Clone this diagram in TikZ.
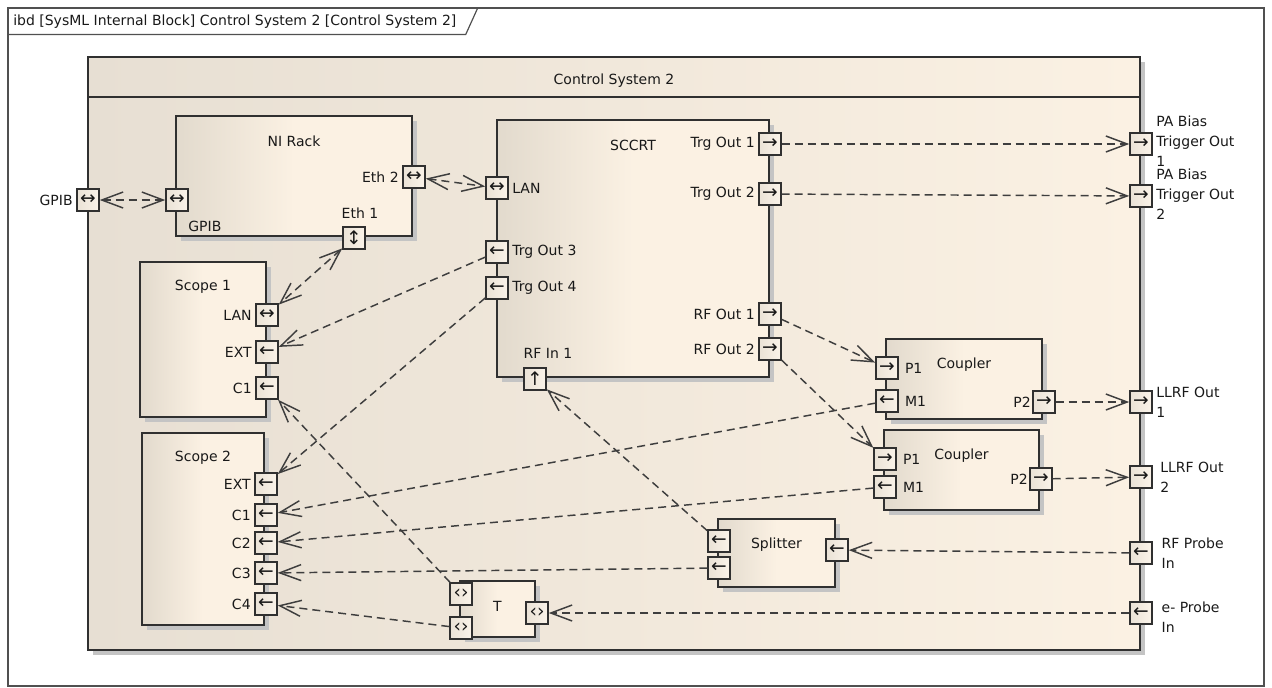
\documentclass[tikz,border=0pt]{standalone}
\usepackage{fontspec}
\setmainfont{DejaVu Sans}
\usetikzlibrary{positioning,fit,shadows,arrows.meta}
\definecolor{linec}{RGB}{48,48,48}
\definecolor{dashc}{RGB}{62,62,62}
\definecolor{framec}{RGB}{80,80,80}
\definecolor{blockL}{RGB}{226,218,205}
\definecolor{blockR}{RGB}{251,241,227}
\definecolor{sysL}{RGB}{231,223,211}
\definecolor{portL}{RGB}{234,226,214}
\definecolor{portR}{RGB}{250,243,233}
\definecolor{shadowc}{RGB}{196,196,196}

\begin{document}
\begin{tikzpicture}[x=0.75pt,y=-0.75pt,
  every node/.style={font=\fontsize{10.5}{15}\selectfont, text=black!90},
  sysblk/.style={draw=linec, line width=1.3pt, inner sep=0pt, left color=sysL, right color=blockR,
    drop shadow={shadow xshift=3.75pt, shadow yshift=-3.75pt, opacity=1, fill=shadowc},
    label={[anchor=center, yshift=-18pt]north:#1}},
  blk/.style={draw=linec, line width=1.3pt, inner sep=0pt, left color=blockL, right color=blockR, middle color=blockR,
    drop shadow={shadow xshift=3.75pt, shadow yshift=-3.75pt, opacity=1, fill=shadowc},
    label={[anchor=center, yshift=-19.5pt]north:#1}},
  port/.style={draw=linec, line width=1.1pt, inner sep=0pt, minimum size=16.5pt,
    left color=portL, right color=portR, font=\fontsize{14}{14}\selectfont},
  lab/.style={inner sep=2.5pt},
  flow/.style={draw=dashc, line width=1.1pt, dash pattern=on 6pt off 3.75pt,
    >={Straight Barb[length=16pt,width=12pt]}},
  ]
\useasboundingbox (0,0) rectangle (1272,687);
\node (frame) [draw=framec, line width=0.9pt, fit={(8,8)(1264,686)}, inner sep=0pt] {};
\node (tab) [anchor=north west, inner xsep=3.75pt, minimum height=19.5pt] at (8,8)
  {ibd [SysML Internal Block] Control System 2 [Control System 2]};
\draw[framec, line width=0.9pt] (tab.south west) -- ([xshift=3pt]tab.south east) -- ([xshift=12pt]tab.north east);

\node (csys) [sysblk=Control System 2, fit={(88,57)(1140,650)}] {};
\draw[linec, line width=1.3pt] ([yshift=-30.75pt]csys.north west) -- ([yshift=-30.75pt]csys.north east);

\node (nirack)  [blk=NI Rack, fit={(176,116)(412,236)}] {};
\node (sccrt)   [blk=SCCRT, fit={(497,120)(769,377)}] {};
\node (scope1)  [blk=Scope 1, fit={(140,262)(266,417)}] {};
\node (scope2)  [blk=Scope 2, fit={(142,433)(264,625)}] {};
\node (coupler1)[blk=Coupler, fit={(886,339)(1042,419)}] {};
\node (coupler2)[blk=Coupler, fit={(884,430)(1039,510)}] {};
\node (splitter)[blk=Splitter, fit={(718,519)(835,587)}] {};
\node (tee)     [blk=T, fit={(460,581)(535,637)}] {};

\node (gpib)   [port, label={[lab]left:GPIB}] at (88,200) {↔};
\node (pab1)   [port, label={[lab, align=left, yshift=2pt]right:{PA Bias\\Trigger Out\\1}}] at (1141,144) {→};
\node (pab2)   [port, label={[lab, align=left, yshift=1pt]right:{PA Bias\\Trigger Out\\2}}] at (1141,196) {→};
\node (llrf1)  [port, label={[lab, align=left]right:{LLRF Out\\1}}] at (1141,402) {→};
\node (llrf2)  [port, label={[lab, align=left, xshift=3pt]right:{LLRF Out\\2}}] at (1141,477) {→};
\node (rfprobe)[port, label={[lab, align=left, xshift=4pt]right:{RF Probe\\In}}] at (1141,553) {←};
\node (eprobe) [port, label={[lab, align=left, xshift=4pt, yshift=-3pt]right:{e- Probe\\In}}] at (1141,613) {←};

\node (rgpib) [port, label={[lab, xshift=-3pt, yshift=-4pt]south east:GPIB}] at (177,200) {↔};
\node (eth2)  [port, label={[lab]left:Eth 2}] at (414,177) {↔};
\node (eth1)  [port, label={[lab, xshift=4.5pt, yshift=3pt]above:Eth 1}] at (354,238) {↕};

\node (lan)    [port, label={[lab]right:LAN}] at (497,188) {↔};
\node (trg3)   [port, label={[lab]right:Trg Out 3}] at (497,252) {←};
\node (trg4)   [port, label={[lab]right:Trg Out 4}] at (497,288) {←};
\node (trg1)   [port, label={[lab]left:Trg Out 1}] at (770,144) {→};
\node (trg2)   [port, label={[lab]left:Trg Out 2}] at (770,194) {→};
\node (rfout1) [port, label={[lab]left:RF Out 1}] at (770,314) {→};
\node (rfout2) [port, label={[lab]left:RF Out 2}] at (770,349) {→};
\node (rfin)   [port, label={[lab, xshift=9.75pt, yshift=4pt]above:RF In 1}] at (535,379) {↑};

\node (s1lan) [port, label={[lab]left:LAN}] at (267,315) {↔};
\node (s1ext) [port, label={[lab]left:EXT}] at (267,352) {←};
\node (s1c1)  [port, label={[lab]left:C1}] at (267,388) {←};

\node (s2ext) [port, label={[lab]left:EXT}] at (266,484) {←};
\node (s2c1)  [port, label={[lab]left:C1}] at (266,515) {←};
\node (s2c2)  [port, label={[lab]left:C2}] at (266,543) {←};
\node (s2c3)  [port, label={[lab]left:C3}] at (266,573) {←};
\node (s2c4)  [port, label={[lab]left:C4}] at (266,604) {←};

\node (c1p1) [port, label={[lab, xshift=2pt]right:P1}] at (887,368) {→};
\node (c1m1) [port, label={[lab, xshift=2pt]right:M1}] at (887,401) {←};
\node (c1p2) [port, label={[lab, xshift=1.5pt]left:P2}] at (1044,402) {→};
\node (c2p1) [port, label={[lab, xshift=2pt]right:P1}] at (885,459) {→};
\node (c2m1) [port, label={[lab, xshift=2pt]right:M1}] at (885,487) {←};
\node (c2p2) [port, label={[lab, xshift=1.5pt]left:P2}] at (1041,479) {→};

\node (spl1) [port] at (719,541) {←};
\node (spl2) [port] at (719,568) {←};
\node (splr) [port] at (837,550) {←};

\node (tl1) [port] at (461,594) {‹›};
\node (tl2) [port] at (461,628) {‹›};
\node (tr)  [port] at (537,613) {‹›};

\draw[flow, <->] (gpib) -- (rgpib);
\draw[flow, <->] (eth2) -- (lan);
\draw[flow, <->] (eth1) -- (s1lan);
\foreach \a/\b in {trg3/s1ext, trg4/s2ext, trg1/pab1, trg2/pab2, rfout1/c1p1, rfout2/c2p1,
                   c1m1/s2c1, c2m1/s2c2, c1p2/llrf1, c2p2/llrf2, spl1/rfin, spl2/s2c3,
                   rfprobe/splr, tl1/s1c1, tl2/s2c4, eprobe/tr}
  \draw[flow, ->] (\a) -- (\b);
\end{tikzpicture}
\end{document}
